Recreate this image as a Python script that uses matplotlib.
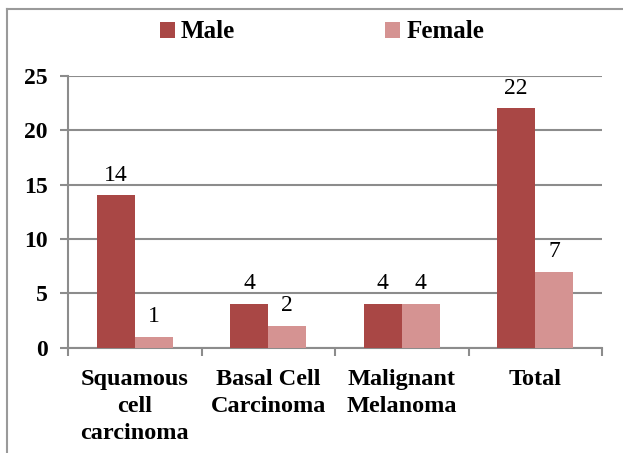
import numpy as np
import matplotlib
matplotlib.use("Agg")
import matplotlib.pyplot as plt
from matplotlib.lines import Line2D

categories = ["Squamous\ncell\ncarcinoma", "Basal Cell\nCarcinoma", "Malignant\nMelanoma", "Total"]
male = [14, 4, 4, 22]
female = [1, 2, 4, 7]
yticks = [0, 5, 10, 15, 20, 25]

MALE_C = "#A94745"
FEMALE_C = "#D59392"
GRID_C = "#8C8C8C"
SERIF = ["Liberation Serif", "DejaVu Serif"]

plt.rcParams["font.family"] = SERIF

W, H = 623, 453
fig = plt.figure(figsize=(W / 100, H / 100), dpi=100)
ax = fig.add_axes([68 / W, 1 - 347.7 / H, (602 - 68) / W, (347.7 - 75.7) / H])

x = np.arange(len(categories)) + 0.5
bw = 0.285
bm = ax.bar(x - bw / 2, male, bw, color=MALE_C, zorder=3, label="Male")
bf = ax.bar(x + bw / 2, female, bw, color=FEMALE_C, zorder=3, label="Female")

for bars, vals in ((bm, male), (bf, female)):
    for b, v in zip(bars, vals):
        ax.annotate(str(v), (b.get_x() + b.get_width() / 2, v),
                    xytext=(0, 7), textcoords="offset points",
                    ha="center", va="bottom", fontsize=17)

ax.set_xlim(0, len(categories))
ax.set_ylim(0, 25)
ax.set_yticks(yticks)
ax.set_yticklabels([str(v) for v in yticks], fontsize=17, fontweight="bold")
ax.set_xticks(np.arange(len(categories) + 1))
ax.set_xticklabels([])
ax.tick_params(axis="both", color=GRID_C, width=1.5, length=5.5, direction="out")
ax.tick_params(axis="y", pad=9)
ax.yaxis.grid(True, color=GRID_C, lw=1.5, zorder=0)
ax.set_axisbelow(True)
for s in ("top", "right"):
    ax.spines[s].set_visible(False)
for s in ("left", "bottom"):
    ax.spines[s].set_color(GRID_C)
    ax.spines[s].set_linewidth(1.5)

for xi, lab in zip(x, categories):
    ax.annotate(lab, (xi, 0), xytext=(0, -15), textcoords="offset points",
                ha="center", va="top", fontsize=17.5, fontweight="bold",
                linespacing=1.4, annotation_clip=False)

fig.legend(handles=[bm, bf], labels=["Male", "Female"], loc="center",
           bbox_to_anchor=(322 / W, 1 - 32 / H), ncol=2, frameon=False,
           prop={"family": SERIF, "weight": "bold", "size": 18},
           handlelength=0.6, handleheight=0.6, handletextpad=0.25,
           columnspacing=6.0)

# outer frame (left and top edges visible)
fig.add_artist(Line2D([7 / W, 7 / W], [0, 1 - 9 / H], transform=fig.transFigure,
                      color="#9A9A9A", lw=1.5))
fig.add_artist(Line2D([7 / W, 1], [1 - 9 / H, 1 - 9 / H], transform=fig.transFigure,
                      color="#9A9A9A", lw=1.5))

fig.savefig("out.png", dpi=100)
